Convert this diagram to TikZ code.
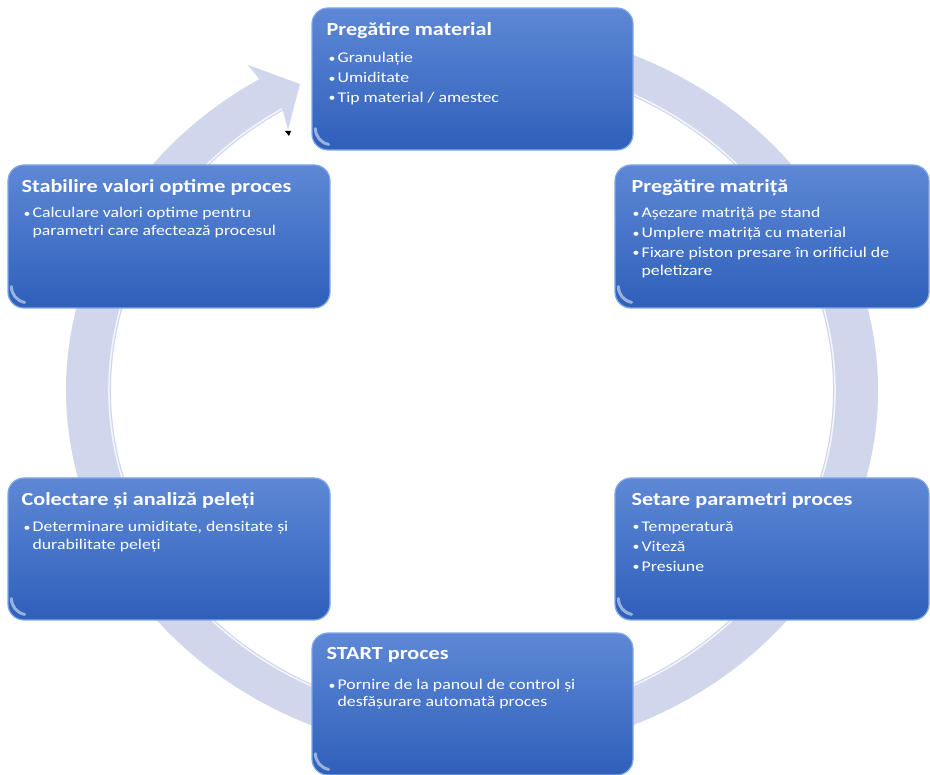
\documentclass[tikz,border=0pt]{standalone}
\usepackage{fontspec}
\setmainfont[FakeStretch=1.2]{Carlito}
\usetikzlibrary{calc}
\definecolor{ringc}{RGB}{208,214,236}
\definecolor{boxtop}{RGB}{94,136,214}
\definecolor{boxbot}{RGB}{46,96,186}
\definecolor{boxedge}{RGB}{128,166,228}
\tikzset{
  stepbox/.style={rounded corners=16pt, top color=boxtop, bottom color=boxbot,
    draw=boxedge, line width=1.2pt, inner sep=0pt},
  ttl/.style={anchor=north west, inner sep=0pt,
    font=\fontsize{18.5}{21}\selectfont\bfseries, text=white},
  bul/.style={anchor=north west, inner sep=0pt,
    font=\fontsize{14.8}{19.8}\selectfont, text=white, align=left},
  glint/.style={white, opacity=0.5, line width=3pt, line cap=round},
}
\newcommand{\bi}[1]{\makebox[9pt][l]{\raisebox{0.6pt}{\fontsize{11.5}{12}\selectfont•}}#1}
\newcommand{\ci}[1]{\hspace*{9pt}#1}
\begin{document}
\begin{tikzpicture}[x=1pt,y=1pt]
\useasboundingbox (0,0) rectangle (930,-775);
\coordinate (C) at (472,-390);
% ring arrow
\fill[ringc] ($(C)+(100:406pt and 365pt)$)
  arc[start angle=100, end angle=-238.4, x radius=406pt, y radius=365pt]
  -- (248,-65) -- (300,-84) -- (288,-130)
  -- ($(C)+(-238.4:361pt and 328pt)$)
  arc[start angle=-238.4, end angle=100, x radius=361pt, y radius=328pt]
  -- cycle;
\draw[white, opacity=0.8, line width=1.5pt] ($(C)+(-238.4:363pt and 330pt)$)
  arc[start angle=-238.4, end angle=100, x radius=363pt, y radius=330pt];
\fill[black] (285,-131) -- (291,-131) -- (289,-136) -- cycle;
% boxes
\node[stepbox, minimum width=321pt, minimum height=142pt] (pm) at (472.5,-79) {};
\node[stepbox, minimum width=314pt, minimum height=143pt] (mt) at (772,-236.5) {};
\node[stepbox, minimum width=322pt, minimum height=143pt] (sv) at (169,-236.5) {};
\node[stepbox, minimum width=322pt, minimum height=142pt] (ca) at (169,-549) {};
\node[stepbox, minimum width=314pt, minimum height=142pt] (sp) at (772,-549) {};
\node[stepbox, minimum width=321pt, minimum height=142pt] (st) at (472.5,-704) {};
\foreach \b in {pm,mt,sv,ca,sp,st}{
  \draw[glint] ($(\b.south west)+(4,22)$) arc[start angle=180, end angle=260, radius=16pt];
}
% texts
\node[ttl] (pmT) at ($(pm.north west)+(15,-15)$) {Pregătire material};
\node[bul] (pmB) at ($(pm.north west)+(17,-45)$)
  {\bi{Granulație}\\\bi{Umiditate}\\\bi{Tip material / amestec}};
\node[ttl] (mtT) at ($(mt.north west)+(17,-15)$) {Pregătire matriță};
\node[bul] (mtB) at ($(mt.north west)+(18,-43)$)
  {\bi{Așezare matriță pe stand}\\\bi{Umplere matriță cu material}\\
   \bi{Fixare piston presare în orificiul de}\\[-1.5pt]\ci{peletizare}};
\node[ttl] (svT) at ($(sv.north west)+(14,-15)$) {Stabilire valori optime proces};
\node[bul] (svB) at ($(sv.north west)+(16,-43)$)
  {\bi{Calculare valori optime pentru}\\[-2pt]\ci{parametri care afectează procesul}};
\node[ttl] (caT) at ($(ca.north west)+(14,-15)$) {Colectare și analiză peleți};
\node[bul] (caB) at ($(ca.north west)+(16,-44)$)
  {\bi{Determinare umiditate, densitate și}\\[-2pt]\ci{durabilitate peleți}};
\node[ttl] (spT) at ($(sp.north west)+(17,-15)$) {Setare parametri proces};
\node[bul] (spB) at ($(sp.north west)+(18,-44)$)
  {\bi{Temperatură}\\\bi{Viteză}\\\bi{Presiune}};
\node[ttl] (stT) at ($(st.north west)+(15,-15)$) {START proces};
\node[bul] (stB) at ($(st.north west)+(17,-47)$)
  {\bi{Pornire de la panoul de control și}\\[-3pt]\ci{desfășurare automată proces}};
\end{tikzpicture}
\end{document}
